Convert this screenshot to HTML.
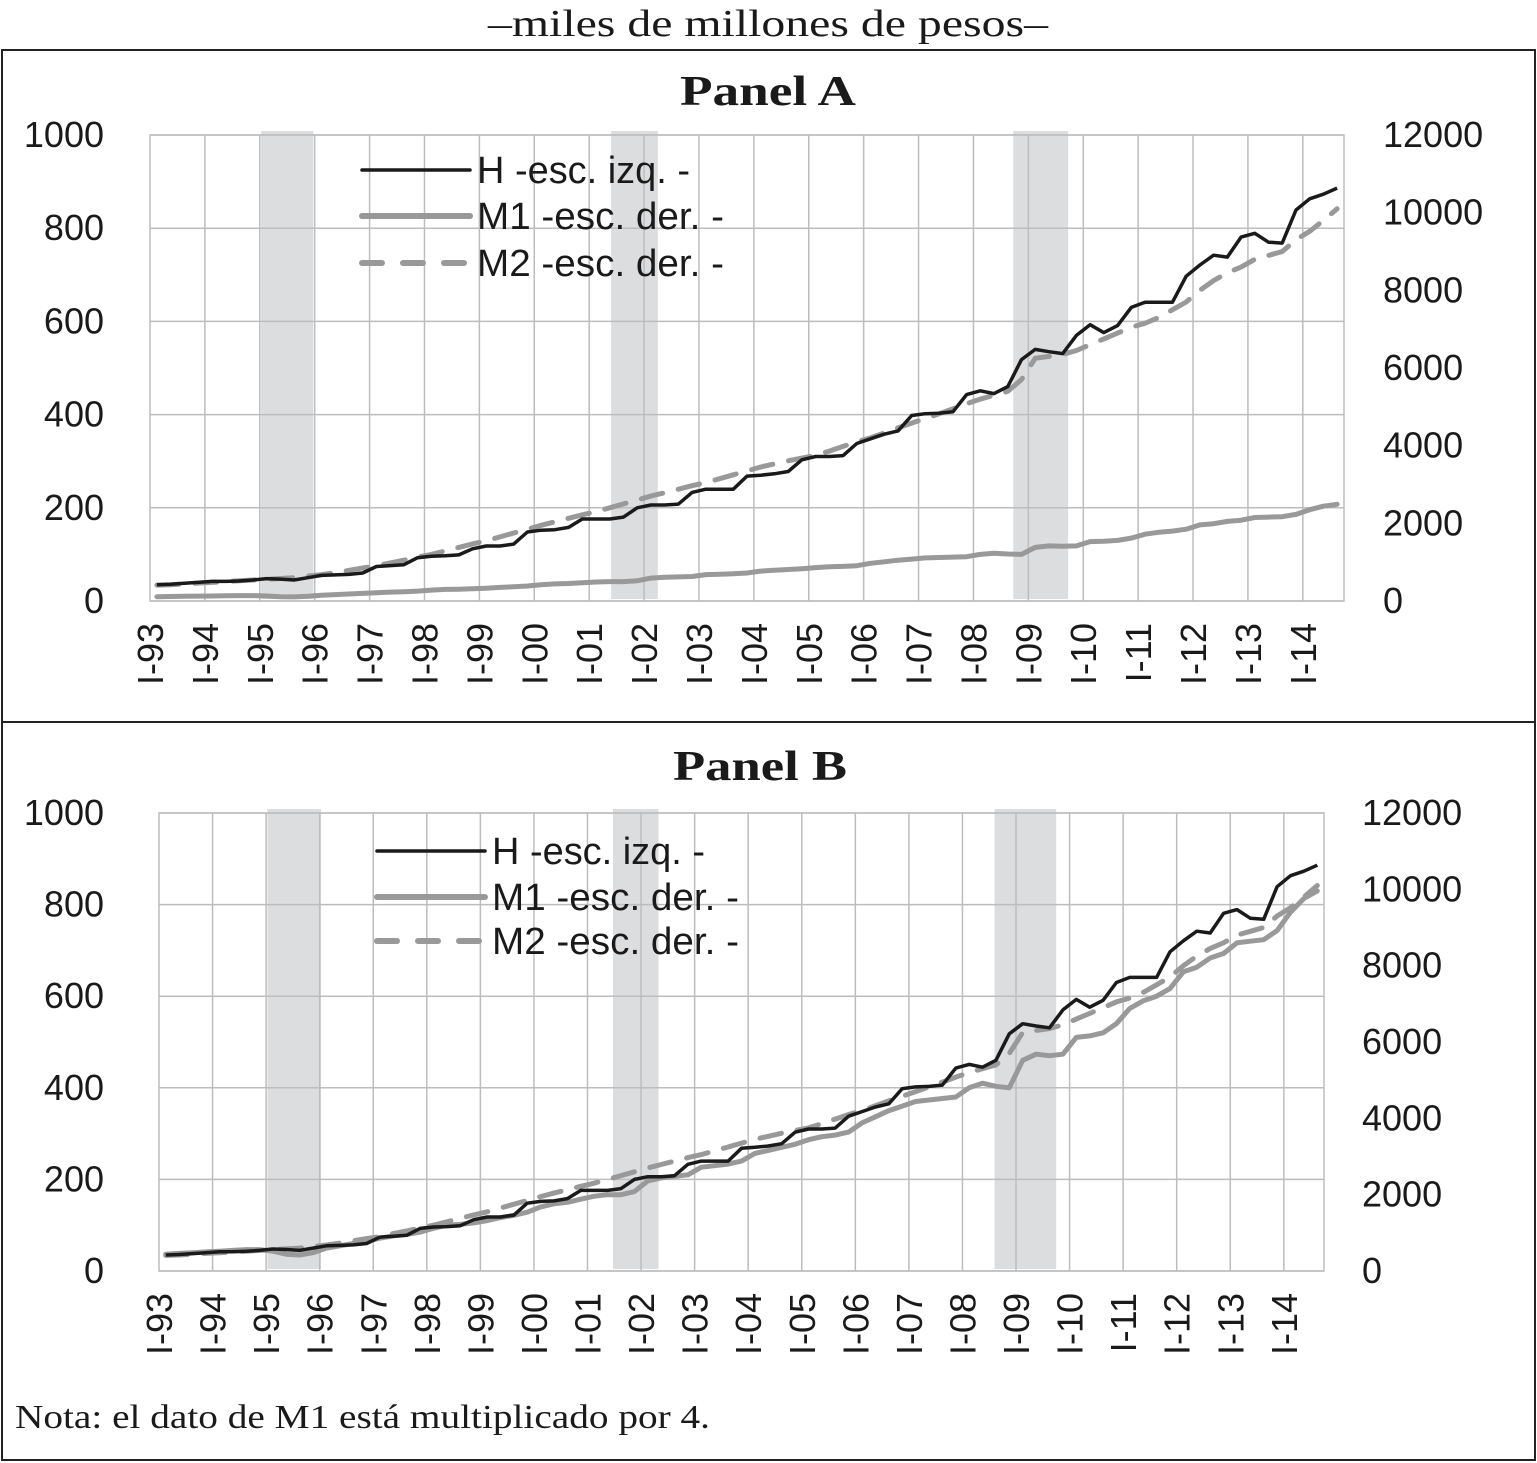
<!DOCTYPE html>
<html><head><meta charset="utf-8"><style>
html,body{margin:0;padding:0;background:#fff;}
svg{display:block;}
text{font-family:"Liberation Sans",sans-serif;fill:#1a1a1a;}
.serif{font-family:"Liberation Serif",serif;}
</style></head>
<body>
<svg id="chart" width="1537" height="1463" viewBox="0 0 1537 1463" xmlns="http://www.w3.org/2000/svg">
<text class="serif" x="768" y="36" text-anchor="middle" font-size="38" textLength="560" lengthAdjust="spacingAndGlyphs">–miles de millones de pesos–</text>
<rect x="2" y="50" width="1533" height="1410" fill="none" stroke="#222" stroke-width="2"/>
<line x1="2" y1="722" x2="1535" y2="722" stroke="#222" stroke-width="2"/>
<text class="serif" x="768" y="105" text-anchor="middle" font-size="42" font-weight="bold" textLength="176" lengthAdjust="spacingAndGlyphs">Panel A</text>
<text class="serif" x="760" y="780" text-anchor="middle" font-size="42" font-weight="bold" textLength="174" lengthAdjust="spacingAndGlyphs">Panel B</text>
<text class="serif" x="15" y="1428" font-size="34" textLength="695" lengthAdjust="spacingAndGlyphs">Nota: el dato de M1 está multiplicado por 4.</text>
<g id="panelA"></g>
<g id="panelB"></g>
</svg>
<script>
// Quarterly data I-93 .. III-14 (87 quarters)
const yearLabels = ["I-93","I-94","I-95","I-96","I-97","I-98","I-99","I-00","I-01","I-02","I-03","I-04","I-05","I-06","I-07","I-08","I-09","I-10","I-11","I-12","I-13","I-14"];
const leftTicks = [0,200,400,600,800,1000];
const rightTicks = [0,2000,4000,6000,8000,10000,12000];
// H, left scale
const seriesH = [35,36,38,40, 42,42,43,45, 48,47,45,50, 55,56,57,60, 74,76,78,93,
 96,97,99,112, 118,118,122,148, 152,153,158,176, 176,176,180,200, 206,206,208,233,
 240,240,240,268, 270,273,278,303, 310,310,312,338, 348,358,365,398, 402,403,406,443,
 451,445,460,518, 540,535,531,570, 593,576,591,630, 641,641,641,697, 721,742,738,781,
 789,770,768,839, 863,873,886];
// M1, right scale (panel A)
const seriesM1 = [110,115,120,125, 130,135,140,140, 130,110,105,120, 150,165,180,195, 215,230,240,255,
 280,300,305,315, 330,350,365,385, 420,440,450,470, 490,500,500,520, 590,610,620,630,
 680,690,700,720, 770,790,810,830, 860,880,890,910, 970,1010,1050,1080, 1110,1120,1130,1140,
 1200,1230,1210,1200, 1380,1420,1410,1420, 1530,1540,1560,1620, 1720,1770,1800,1850, 1960,1990,2050,2080,
 2150,2160,2170,2230, 2350,2440,2490];
// M2, right scale
const seriesM2 = [410,420,440,460, 480,500,520,540, 560,580,600,640, 680,730,790,850, 900,980,1050,1130,
 1200,1290,1380,1470, 1550,1650,1750,1850, 1950,2040,2130,2220, 2300,2400,2500,2600, 2700,2790,2880,2970,
 3050,3150,3250,3350, 3450,3530,3610,3680, 3750,3860,3980,4100, 4200,4330,4460,4580, 4700,4820,4950,5080,
 5200,5300,5400,5700, 6250,6300,6350,6450, 6600,6750,6900,7050, 7150,7300,7500,7700, 8000,8250,8450,8600,
 8800,8900,9000,9300, 9520,9800,10100];
const m1Multiplier = 4;
// recession shading in quarter-index units
const shadesA = [[8.1,11.9],[33.6,37],[62.9,66.9]];
const shadesB = [[8.1,12.1],[33.9,37.3],[62.4,67]];

const NS = "http://www.w3.org/2000/svg";
function mk(tag, attrs, parent){
  const e = document.createElementNS(NS, tag);
  for (const k in attrs) e.setAttribute(k, attrs[k]);
  parent.appendChild(e); return e;
}

function drawPanel(g, cfg){
  const n = seriesH.length;
  const cw = (cfg.x1 - cfg.x0) / n;
  const xq = i => cfg.x0 + (i + 0.5) * cw;
  const xb = i => cfg.x0 + i * cw;
  const yL = v => cfg.yb - v / 1000 * (cfg.yb - cfg.yt);
  const yR = v => cfg.yb - v / 12000 * (cfg.yb - cfg.yt);

  cfg.shades.forEach(s => {
    const r = mk('rect', {x: xb(s[0]), y: cfg.yt - 4, width: xb(s[1]) - xb(s[0]), height: cfg.yb - cfg.yt + 2, fill: '#dcdddf'}, g);
    
    
  });
  leftTicks.forEach(t => {
    const l = mk('line', {x1: cfg.x0, x2: cfg.x1, y1: yL(t), y2: yL(t), stroke: '#bdbdbd', 'stroke-width': 1.5}, g);
    
    
    const tx = mk('text', {x: cfg.lx, y: yL(t) + 12, 'text-anchor': 'end', 'font-size': 36}, g);
    tx.textContent = t;
    
    
  });
  rightTicks.forEach(t => {
    const tx = mk('text', {x: cfg.rx, y: yR(t) + 12, 'text-anchor': 'start', 'font-size': 36}, g);
    tx.textContent = t;
    
    
  });
  yearLabels.forEach((lab, k) => {
    const x = xb(k * 4);
    if (k > 0) {
      const l = mk('line', {x1: x, x2: x, y1: cfg.yt, y2: cfg.yb, stroke: '#bdbdbd', 'stroke-width': 1.5}, g);
      
      
    }
    const tx = mk('text', {x: 0, y: 0, 'text-anchor': 'end', 'font-size': 36,
      transform: `translate(${x + 13},${cfg.yb + 22}) rotate(-90)`}, g);
    tx.textContent = lab;
    
    
  });
  const fr = mk('rect', {x: cfg.x0, y: cfg.yt, width: cfg.x1 - cfg.x0, height: cfg.yb - cfg.yt, fill: 'none', stroke: '#bdbdbd', 'stroke-width': 1.5}, g);
  
  

  const path = (arr, yf, mult) => arr.map((v, i) => (i ? 'L' : 'M') + xq(i).toFixed(1) + ',' + yf(v * mult).toFixed(1)).join('');
  const m1 = mk('path', {d: path(seriesM1, yR, cfg.m1mult), fill: 'none', stroke: '#999', 'stroke-width': 5, 'stroke-linejoin': 'round', 'stroke-linecap': 'round'}, g);
  
  
  const m2 = mk('path', {d: path(seriesM2, yR, 1), fill: 'none', stroke: '#999', 'stroke-width': 5, 'stroke-dasharray': '22 16', 'stroke-linecap': 'round'}, g);
  
  
  const h = mk('path', {d: path(seriesH, yL, 1), fill: 'none', stroke: '#1a1a1a', 'stroke-width': 3.5, 'stroke-linejoin': 'round'}, g);
  
  

  const leg = [
    {y: cfg.legY[0], stroke: '#1a1a1a', w: 3.5, dash: null, t: 'H -esc. izq. -', tl: 213},
    {y: cfg.legY[1], stroke: '#999', w: 6, dash: null, t: 'M1  -esc. der. -', tl: 247},
    {y: cfg.legY[2], stroke: '#999', w: 6, dash: '20 21', t: 'M2  -esc. der. -', tl: 247}
  ];
  leg.forEach(e => {
    const a = {x1: cfg.legX, x2: cfg.legX + 108, y1: e.y, y2: e.y, stroke: e.stroke, 'stroke-width': e.w, 'stroke-linecap': 'round'};
    if (e.dash) a['stroke-dasharray'] = e.dash;
    const l = mk('line', a, g);
    
    
    const tx = mk('text', {x: cfg.legX + 115, y: e.y + 13, 'font-size': 38, textLength: e.tl, lengthAdjust: 'spacingAndGlyphs'}, g);
    tx.textContent = e.t;
    
    
  });
}

drawPanel(document.getElementById('panelA'), {x0: 150, x1: 1344, yt: 135, yb: 601, lx: 104, rx: 1383,
  shades: shadesA, m1mult: 1, legX: 362, legY: [170, 216, 263]});
drawPanel(document.getElementById('panelB'), {x0: 159, x1: 1324, yt: 813, yb: 1271, lx: 104, rx: 1362,
  shades: shadesB, m1mult: m1Multiplier, legX: 377, legY: [851, 897, 941]});
</script>
</body></html>
